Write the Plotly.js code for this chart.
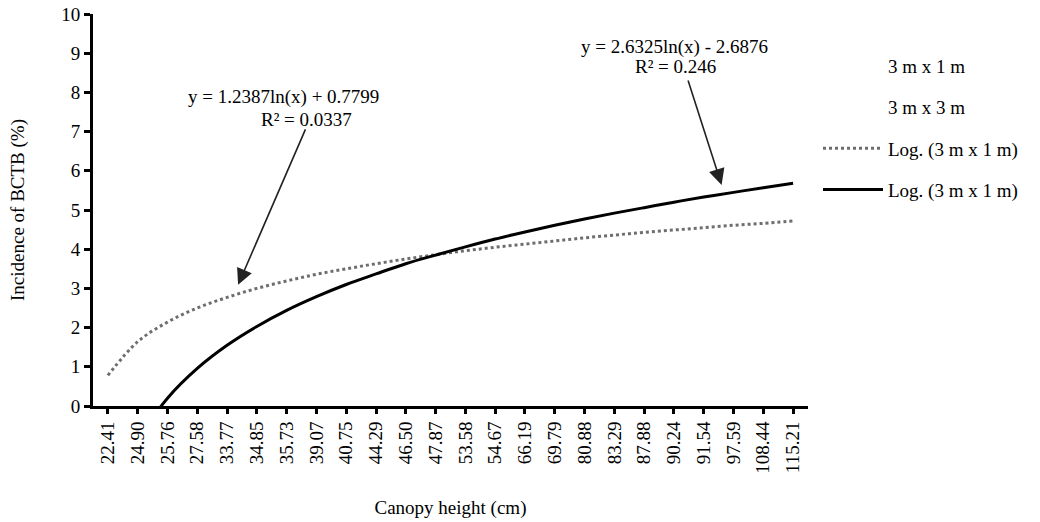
<!DOCTYPE html>
<html>
<head>
<meta charset="utf-8">
<script src="https://cdn.plot.ly/plotly-3.0.1.min.js"></script>
<style>html,body{margin:0;padding:0;background:#fff;}#chart{width:1040px;height:522px;}</style>
</head>
<body>
<div id="chart"></div>
<script>
// Canopy height categories (cm) as printed on the x axis
const categories = ["22.41","24.90","25.76","27.58","33.77","34.85","35.73","39.07","40.75","44.29","46.50","47.87",
  "53.58","54.67","66.19","69.79","80.88","83.29","87.88","90.24","91.54","97.59","108.44","115.21"];

// Raw series points are not visible in the picture (no markers drawn)
const series3x1 = categories.map(() => null);
const series3x3 = categories.map(() => null);

// Logarithmic trendline values read at each category
const logTrend3x1 = [0.78,1.64,2.14,2.50,2.77,3.00,3.19,3.36,3.50,3.63,3.75,3.86,
  3.96,4.05,4.13,4.21,4.29,4.36,4.43,4.49,4.55,4.61,4.66,4.72];
const logTrend3x3 = [null,-0.86,0.20,0.96,1.55,2.03,2.44,2.79,3.10,3.37,3.63,3.85,
  4.06,4.26,4.44,4.61,4.77,4.92,5.06,5.20,5.33,5.45,5.57,5.68];

const seriesNames = ["3 m x 1 m","3 m x 3 m","Log. (3 m x 1 m)","Log. (3 m x 1 m)"];
const eq1 = ["y = 1.2387ln(x) + 0.7799","R\u00b2 = 0.0337"];
const eq2 = ["y = 2.6325ln(x) - 2.6876","R\u00b2 = 0.246"];

const FONT = "Liberation Serif, Times New Roman, serif";
const FS = 19;

const traces = [
  {x: categories, y: series3x1, name: seriesNames[0], mode: "lines", line: {color: "rgba(0,0,0,0)", width: 1}, legendgroup: "a", showlegend: true, hoverinfo: "skip"},
  {x: categories, y: series3x3, name: seriesNames[1], mode: "lines", line: {color: "rgba(0,0,0,0)", width: 1}, legendgroup: "b", showlegend: true, hoverinfo: "skip"},
  {x: categories, y: logTrend3x1, name: seriesNames[2], mode: "lines", line: {color: "#6e6e6e", width: 3, dash: "dot", shape: "spline", smoothing: 1}, legendgroup: "c"},
  {x: categories, y: logTrend3x3, name: seriesNames[3], mode: "lines", line: {color: "#000000", width: 3, shape: "spline", smoothing: 1}, legendgroup: "d", connectgaps: false}
];

const layout = {
  width: 1040, height: 522,
  margin: {l: 93, r: 232, t: 14, b: 116, pad: 0},
  paper_bgcolor: "#ffffff", plot_bgcolor: "#ffffff",
  font: {family: FONT, size: FS, color: "#000"},
  showlegend: true,
  legend: {
    x: 1.014, xanchor: "left", y: 0.916, yanchor: "top",
    traceorder: "grouped", tracegroupgap: 13.5,
    font: {family: FONT, size: FS, color: "#000"},
    bgcolor: "rgba(0,0,0,0)", itemwidth: 60
  },
  xaxis: {
    type: "category", range: [-0.5, 23.5],
    showline: true, linecolor: "#000", linewidth: 3,
    ticks: "outside", ticklen: 5, tickwidth: 3, tickcolor: "#000",
    tickangle: -90, tickfont: {family: FONT, size: FS},
    showgrid: false, zeroline: false, fixedrange: true,
    title: {text: "Canopy height (cm)", font: {family: FONT, size: FS}, standoff: 28}
  },
  yaxis: {
    range: [0, 10], dtick: 1, tick0: 0,
    showline: true, linecolor: "#000", linewidth: 3,
    ticks: "outside", ticklen: 6, tickwidth: 3, tickcolor: "#000",
    tickfont: {family: FONT, size: FS},
    showgrid: false, zeroline: false, fixedrange: true,
    title: {text: "Incidence of BCTB (%)", font: {family: FONT, size: FS}, standoff: 32}
  },
  annotations: [
    {x: 4.37, y: 3.09, xref: "x", yref: "y", ax: 68, ay: -157, axref: "pixel", ayref: "pixel",
     showarrow: true, arrowhead: 2, arrowsize: 2, arrowwidth: 1.6, arrowcolor: "#222", text: ""},
    {x: 20.6, y: 5.64, xref: "x", yref: "y", ax: -34, ay: -106, axref: "pixel", ayref: "pixel",
     showarrow: true, arrowhead: 2, arrowsize: 2, arrowwidth: 1.6, arrowcolor: "#222", text: ""},
    {x: 5.88, y: 7.88, xref: "x", yref: "y", text: eq1[0], showarrow: false, font: {family: FONT, size: FS}},
    {x: 6.68, y: 7.30, xref: "x", yref: "y", text: eq1[1], showarrow: false, font: {family: FONT, size: FS}},
    {x: 19.03, y: 9.16, xref: "x", yref: "y", text: eq2[0], showarrow: false, font: {family: FONT, size: FS}},
    {x: 19.06, y: 8.67, xref: "x", yref: "y", text: eq2[1], showarrow: false, font: {family: FONT, size: FS}}
  ]
};

Plotly.newPlot("chart", traces, layout, {staticPlot: true, displayModeBar: false});
</script>
</body>
</html>
